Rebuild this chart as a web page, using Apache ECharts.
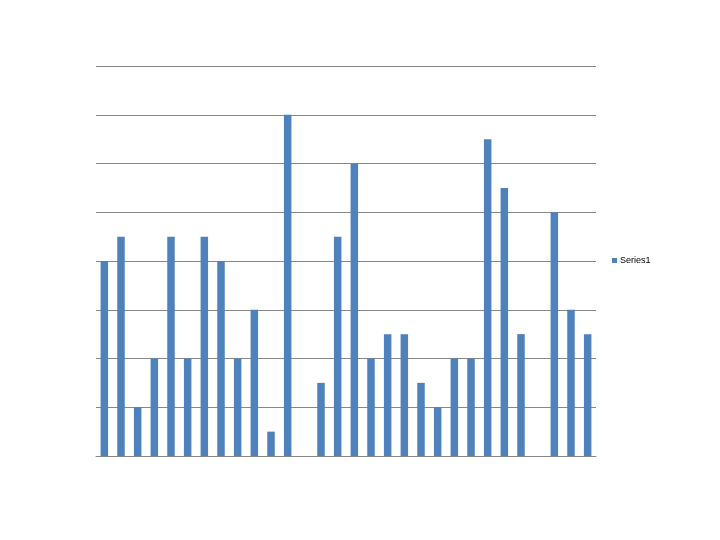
<!DOCTYPE html>
<html>
<head>
<meta charset="utf-8">
<script src="https://cdn.jsdelivr.net/npm/echarts@6/dist/echarts.min.js"></script>
<style>html,body{margin:0;padding:0;background:#fff}#c{width:720px;height:540px}</style>
</head>
<body>
<div id="c"></div>
<script>
var categories = ['1','2','3','4','5','6','7','8','9','10','11','12','13','14','15','16','17','18','19','20','21','22','23','24','25','26','27','28','29','30'];
var series1 = [8,9,2,4,9,4,9,8,4,6,1,14,0,3,9,12,4,5,5,3,2,4,4,13,11,5,0,10,6,5];
var seriesName = 'Series1';

var chart = echarts.init(document.getElementById('c'), null, {renderer:'canvas'});
chart.setOption({
  animation: false,
  backgroundColor: '#ffffff',
  grid: {left: 96, right: 124, top: 66, bottom: 84, containLabel: false},
  legend: {
    data: [seriesName], orient: 'vertical', left: 607, top: 251,
    itemWidth: 5, itemHeight: 5, itemGap: 4, icon: 'rect',
    textStyle: {fontSize: 9, color: '#000', fontFamily: 'Liberation Sans', padding: [0,0,0,-2]}
  },
  xAxis: {
    type: 'category', data: categories,
    axisLine: {show: true, lineStyle: {color: '#888888', width: 1}},
    axisTick: {show: false}, axisLabel: {show: false}
  },
  yAxis: {
    type: 'value', min: 0, max: 16, interval: 2,
    axisLine: {show: false}, axisTick: {show: false}, axisLabel: {show: false},
    splitLine: {show: true, lineStyle: {color: '#888888', width: 1}}
  },
  series: [{
    name: seriesName, type: 'bar', data: series1, barWidth: 7.5,
    itemStyle: {color: '#4F81BD'}
  }]
});
</script>
</body>
</html>
